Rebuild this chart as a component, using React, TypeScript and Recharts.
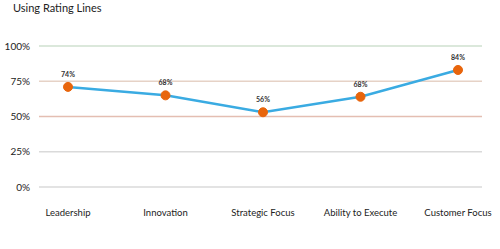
import { LabelList, Line, LineChart, ReferenceLine, XAxis, YAxis } from 'recharts';

const categories = ['Leadership', 'Innovation', 'Strategic Focus', 'Ability to Execute', 'Customer Focus'];
const ratings = [71, 65, 53, 64, 83];
const ratingLabels = ['74%', '68%', '56%', '68%', '84%'];
const yTicks = [0, 25, 50, 75, 100];
const ratingLines = [
	{ y: 100, color: '#cfe0cf' },
	{ y: 75, color: '#e6d2c6' },
	{ y: 50, color: '#e4beb2' },
	{ y: 25, color: '#dadada' },
	{ y: 0, color: '#dadada' },
];

const data = categories.map((name, i) => ({
	name,
	rating: ratings[i],
	label: ratingLabels[i],
}));

const font = 'Lato, "DejaVu Sans", sans-serif';

export default function App() {
	return (
		<div
			style={{
				position: 'absolute',
				left: 0,
				top: 0,
				width: 500,
				height: 249,
				background: '#fff',
				fontFamily: font,
			}}
		>
			<div
				style={{
					position: 'absolute',
					left: 13,
					top: 1,
					fontSize: 11,
					color: '#222',
				}}
			>
				Using Rating Lines
			</div>
			<LineChart
				width={500}
				height={249}
				data={data}
				margin={{ top: 46, right: 18, bottom: 32, left: 0 }}
			>
				{ratingLines.map((r) => (
					<ReferenceLine key={r.y} y={r.y} stroke={r.color} strokeWidth={1.5} />
				))}
				<XAxis
					dataKey="name"
					axisLine={false}
					tickLine={false}
					tickSize={0}
					tickMargin={22}
					height={30}
					interval={0}
					padding={{ left: 29, right: 24 }}
					tick={{ fill: '#222', fontSize: 9.5, fontFamily: font }}
				/>
				<YAxis
					domain={[0, 100]}
					ticks={yTicks}
					axisLine={false}
					tickLine={false}
					tickSize={0}
					tickMargin={9}
					width={39}
					tickFormatter={(v) => `${v}%`}
					tick={{ fill: '#222', fontSize: 10, fontFamily: font }}
				/>
				<Line
					type="linear"
					dataKey="rating"
					stroke="#3aabe2"
					strokeWidth={2.5}
					dot={{ r: 4.5, fill: '#e8650c', stroke: '#e8650c', strokeWidth: 1 }}
					activeDot={false}
					isAnimationActive={false}
				>
					<LabelList
						dataKey="label"
						position="top"
						offset={10}
						style={{ fill: '#333', fontSize: 7, fontWeight: 700, fontFamily: font }}
					/>
				</Line>
			</LineChart>
		</div>
	);
}
